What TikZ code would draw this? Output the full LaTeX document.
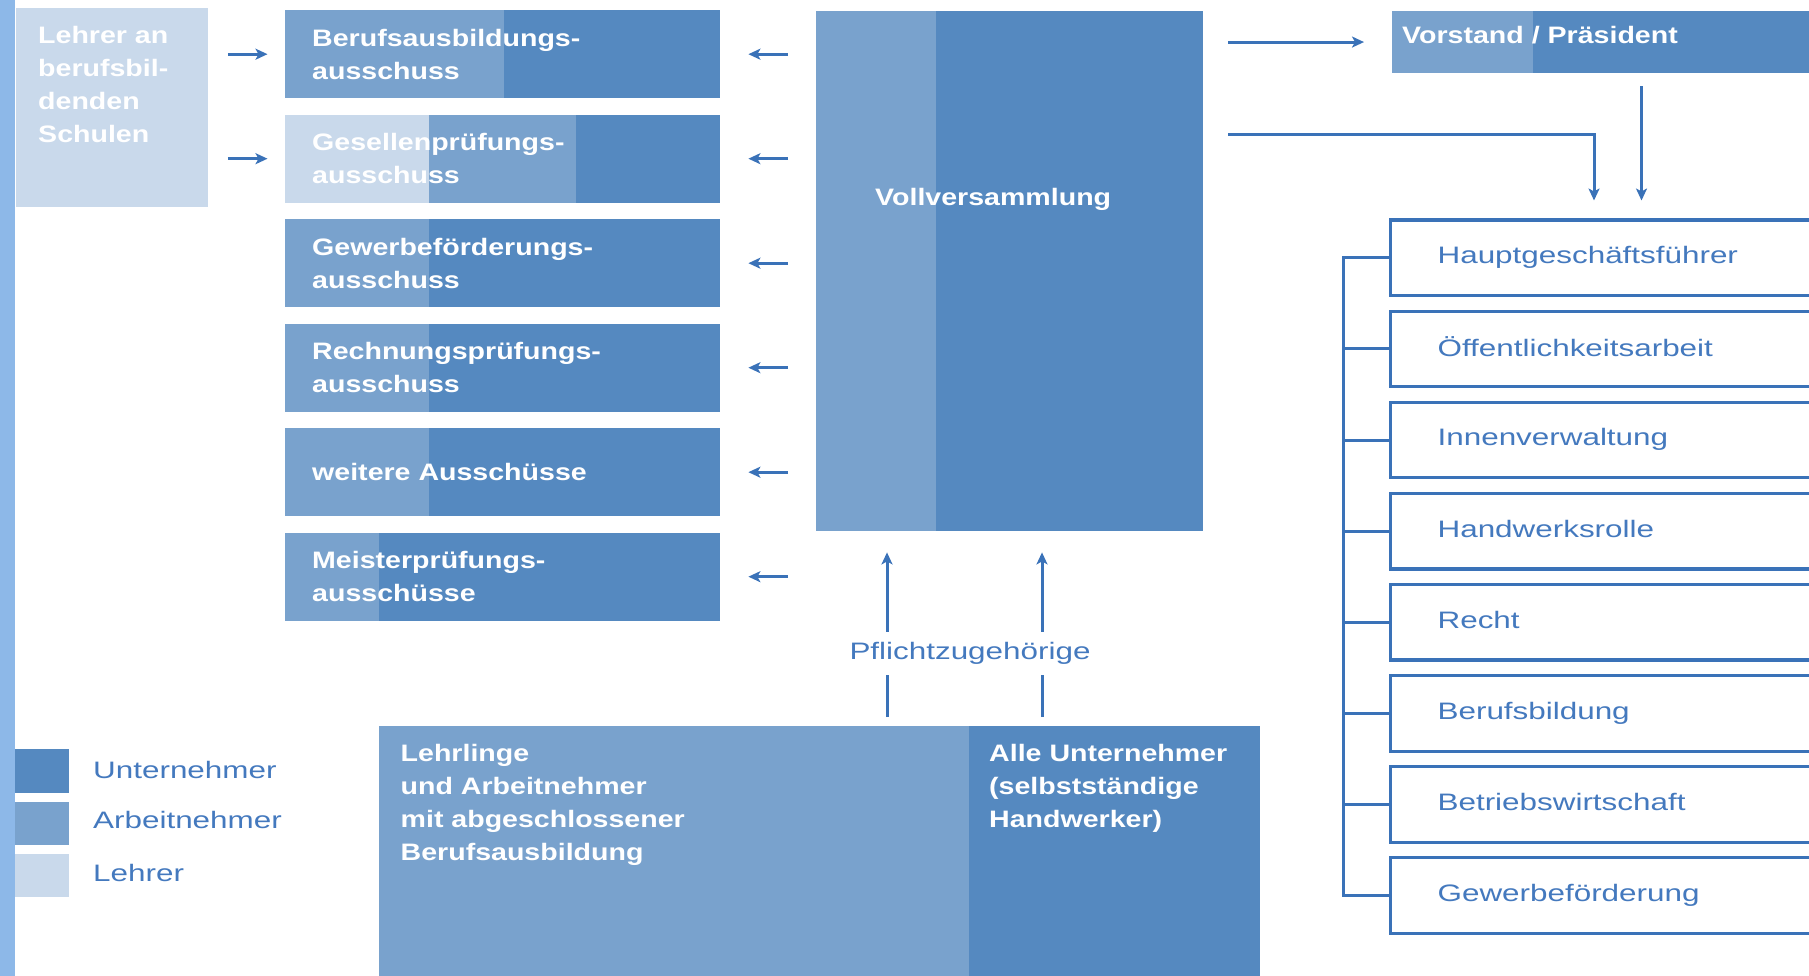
\documentclass[tikz,border=0pt]{standalone}
\usepackage{fontspec}
\setmainfont{Liberation Sans}[FakeStretch=1.32]
\newfontfamily\kastenschrift{Liberation Sans}[FakeStretch=1.2]
\usetikzlibrary{arrows.meta}
\definecolor{dunkel}{HTML}{5589C0}
\definecolor{mittel}{HTML}{79A2CD}
\definecolor{hell}{HTML}{C9D9EB}
\definecolor{balken}{HTML}{8DB8E8}
\definecolor{linie}{HTML}{3A72B8}
\definecolor{blau}{HTML}{4479BE}
\newcommand\weissschrift{\kastenschrift\bfseries\fontsize{23.8}{33}\selectfont}
\newcommand\blauschrift{\fontsize{23.8}{33}\selectfont}
\tikzset{
  teil/.style 2 args={path picture={\fill[#1] (path picture bounding box.north west) rectangle ([xshift=#2]path picture bounding box.south west);}},
  flaeche/.style={rectangle, anchor=north west, inner sep=0pt},
  weiss/.style={text=white, font=\weissschrift, align=left, inner sep=0pt},
  blautext/.style={text=blau, font=\blauschrift, inner sep=0pt},
  ausschuss/.style={rectangle, anchor=north west, fill=dunkel, text=white, font=\weissschrift, align=left, text width=380.5pt, inner xsep=27.5pt, inner ysep=0pt, minimum height=88pt},
  abteilung/.style={rectangle, anchor=north west, draw=linie, line width=3.2pt, fill=white, text=blau, font=\blauschrift, align=left, text width=400pt, inner xsep=47pt, inner ysep=0pt, text depth=5.5pt, minimum height=75.5pt},
  pfeil/.style={draw=linie, line width=3pt, -{Stealth[length=12pt, width=11pt, inset=3pt]}},
  verbindung/.style={draw=linie, line width=3pt}
}
\begin{document}
\begin{tikzpicture}[x=1pt, y=-1pt]
  \useasboundingbox (0,0) rectangle (1809,976);
  \clip (0,0) rectangle (1809,976);
  \fill[balken] (0,0) rectangle (14.5,976);

  \node[flaeche, fill=hell, minimum width=192pt, minimum height=198.4pt] (lehrer) at (15.5,8.3) {};
  \node[weiss, anchor=north west] (lehrertext) at (38,26) {Lehrer an\\berufsbil-\\denden\\Schulen};

  \node[ausschuss, teil={mittel}{219.5pt}] (bab) at (284.5,10) {Berufsausbildungs-\\ausschuss};
  \node[ausschuss, path picture={
      \fill[mittel] (path picture bounding box.north west) rectangle ([xshift=291.5pt]path picture bounding box.south west);
      \fill[hell] (path picture bounding box.north west) rectangle ([xshift=144.5pt]path picture bounding box.south west);}] (gpa) at (284.5,114.5) {Gesellenprüfungs-\\ausschuss};
  \node[ausschuss, teil={mittel}{144.5pt}] (gfa) at (284.5,219) {Gewerbeförderungs-\\ausschuss};
  \node[ausschuss, teil={mittel}{144.5pt}] (rpa) at (284.5,323.5) {Rechnungsprüfungs-\\ausschuss};
  \node[ausschuss, teil={mittel}{144.5pt}] (wa) at (284.5,428) {weitere Ausschüsse};
  \node[ausschuss, teil={mittel}{94.5pt}] (mpa) at (284.5,532.5) {Meisterprüfungs-\\ausschüsse};

  \node[flaeche, fill=dunkel, teil={mittel}{120pt}, minimum width=387pt, minimum height=520.3pt] (voll) at (816,10.7) {};
  \node[weiss, anchor=west] (volltext) at (875,199) {Vollversammlung};

  \node[flaeche, fill=dunkel, teil={mittel}{141pt}, minimum width=417pt, minimum height=62.3pt] (vor) at (1392,10.7) {};
  \node[weiss, anchor=west] (vortext) at (1402,35) {Vorstand / Präsident};

  \node[abteilung] (haupt) at (1389,218.5) {Hauptgeschäftsführer};
  \node[abteilung] (oeff) at (1389,309.6) {Öffentlichkeitsarbeit};
  \node[abteilung] (innen) at (1389,400.7) {Innenverwaltung};
  \node[abteilung] (hand) at (1389,491.8) {Handwerksrolle};
  \node[abteilung] (recht) at (1389,582.9) {Recht};
  \node[abteilung] (beruf) at (1389,674) {Berufsbildung};
  \node[abteilung] (betrieb) at (1389,765.1) {Betriebswirtschaft};
  \node[abteilung] (gewerbe) at (1389,856.2) {Gewerbeförderung};

  \node[flaeche, fill=dunkel, teil={mittel}{589.5pt}, minimum width=881pt, minimum height=270pt] (unten) at (379,726) {};
  \node[weiss, anchor=north west] (lehrlinge) at (400.5,744) {Lehrlinge\\und Arbeitnehmer\\mit abgeschlossener\\Berufsausbildung};
  \node[weiss, anchor=north west] (alle) at (989,744) {Alle Unternehmer\\(selbstständige\\Handwerker)};
  \node[blautext, minimum height=43pt] (pz) at (970,653.5) {Pflichtzugehörige};

  \node[flaeche, fill=dunkel, minimum width=54pt, minimum height=44pt] (lu) at (15,749) {};
  \node[flaeche, fill=mittel, minimum width=54pt, minimum height=43pt] (la) at (15,802) {};
  \node[flaeche, fill=hell, minimum width=54pt, minimum height=43pt] (ll) at (15,854) {};
  \node[blautext, anchor=west] (lutext) at (93,770) {Unternehmer};
  \node[blautext, anchor=west] (latext) at (93,820) {Arbeitnehmer};
  \node[blautext, anchor=west] (lltext) at (93,873) {Lehrer};

  \coordinate (vk) at (1594,135);
  \coordinate (vh) at (1641.5,0);
  \coordinate (bk) at (1343,0);
  \coordinate (p1) at (887,0);
  \coordinate (p2) at (1042,0);

  \draw[pfeil, shorten <=20pt, shorten >=17pt] (lehrer.east |- bab.west) -- (bab.west);
  \draw[pfeil, shorten <=20pt, shorten >=17pt] (lehrer.east |- gpa.west) -- (gpa.west);

  \draw[pfeil, shorten <=28pt, shorten >=28pt] (voll.west |- bab.east) -- (bab.east);
  \draw[pfeil, shorten <=28pt, shorten >=28pt] (voll.west |- gpa.east) -- (gpa.east);
  \draw[pfeil, shorten <=28pt, shorten >=28pt] (voll.west |- gfa.east) -- (gfa.east);
  \draw[pfeil, shorten <=28pt, shorten >=28pt] (voll.west |- rpa.east) -- (rpa.east);
  \draw[pfeil, shorten <=28pt, shorten >=28pt] (voll.west |- wa.east) -- (wa.east);
  \draw[pfeil, shorten <=28pt, shorten >=28pt] (voll.west |- mpa.east) -- (mpa.east);

  \draw[pfeil, shorten <=25pt, shorten >=28pt] (voll.east |- vor.west) -- (vor.west);
  \draw[pfeil, shorten <=25pt, shorten >=18pt] (voll.east |- vk) -| (haupt.north -| vk);
  \draw[pfeil, shorten <=13pt, shorten >=18pt] (vor.south -| vh) -- (haupt.north -| vh);

  \draw[verbindung] (haupt.west) -- (haupt.west -| bk) -- (gewerbe.west -| bk) -- (gewerbe.west);
  \draw[verbindung] (oeff.west) -- (oeff.west -| bk);
  \draw[verbindung] (innen.west) -- (innen.west -| bk);
  \draw[verbindung] (hand.west) -- (hand.west -| bk);
  \draw[verbindung] (recht.west) -- (recht.west -| bk);
  \draw[verbindung] (beruf.west) -- (beruf.west -| bk);
  \draw[verbindung] (betrieb.west) -- (betrieb.west -| bk);

  \draw[verbindung, shorten <=9pt] (unten.north -| p1) -- (pz.south -| p1);
  \draw[verbindung, shorten <=9pt] (unten.north -| p2) -- (pz.south -| p2);
  \draw[pfeil, shorten >=21pt] (pz.north -| p1) -- (voll.south -| p1);
  \draw[pfeil, shorten >=21pt] (pz.north -| p2) -- (voll.south -| p2);
\end{tikzpicture}
\end{document}
